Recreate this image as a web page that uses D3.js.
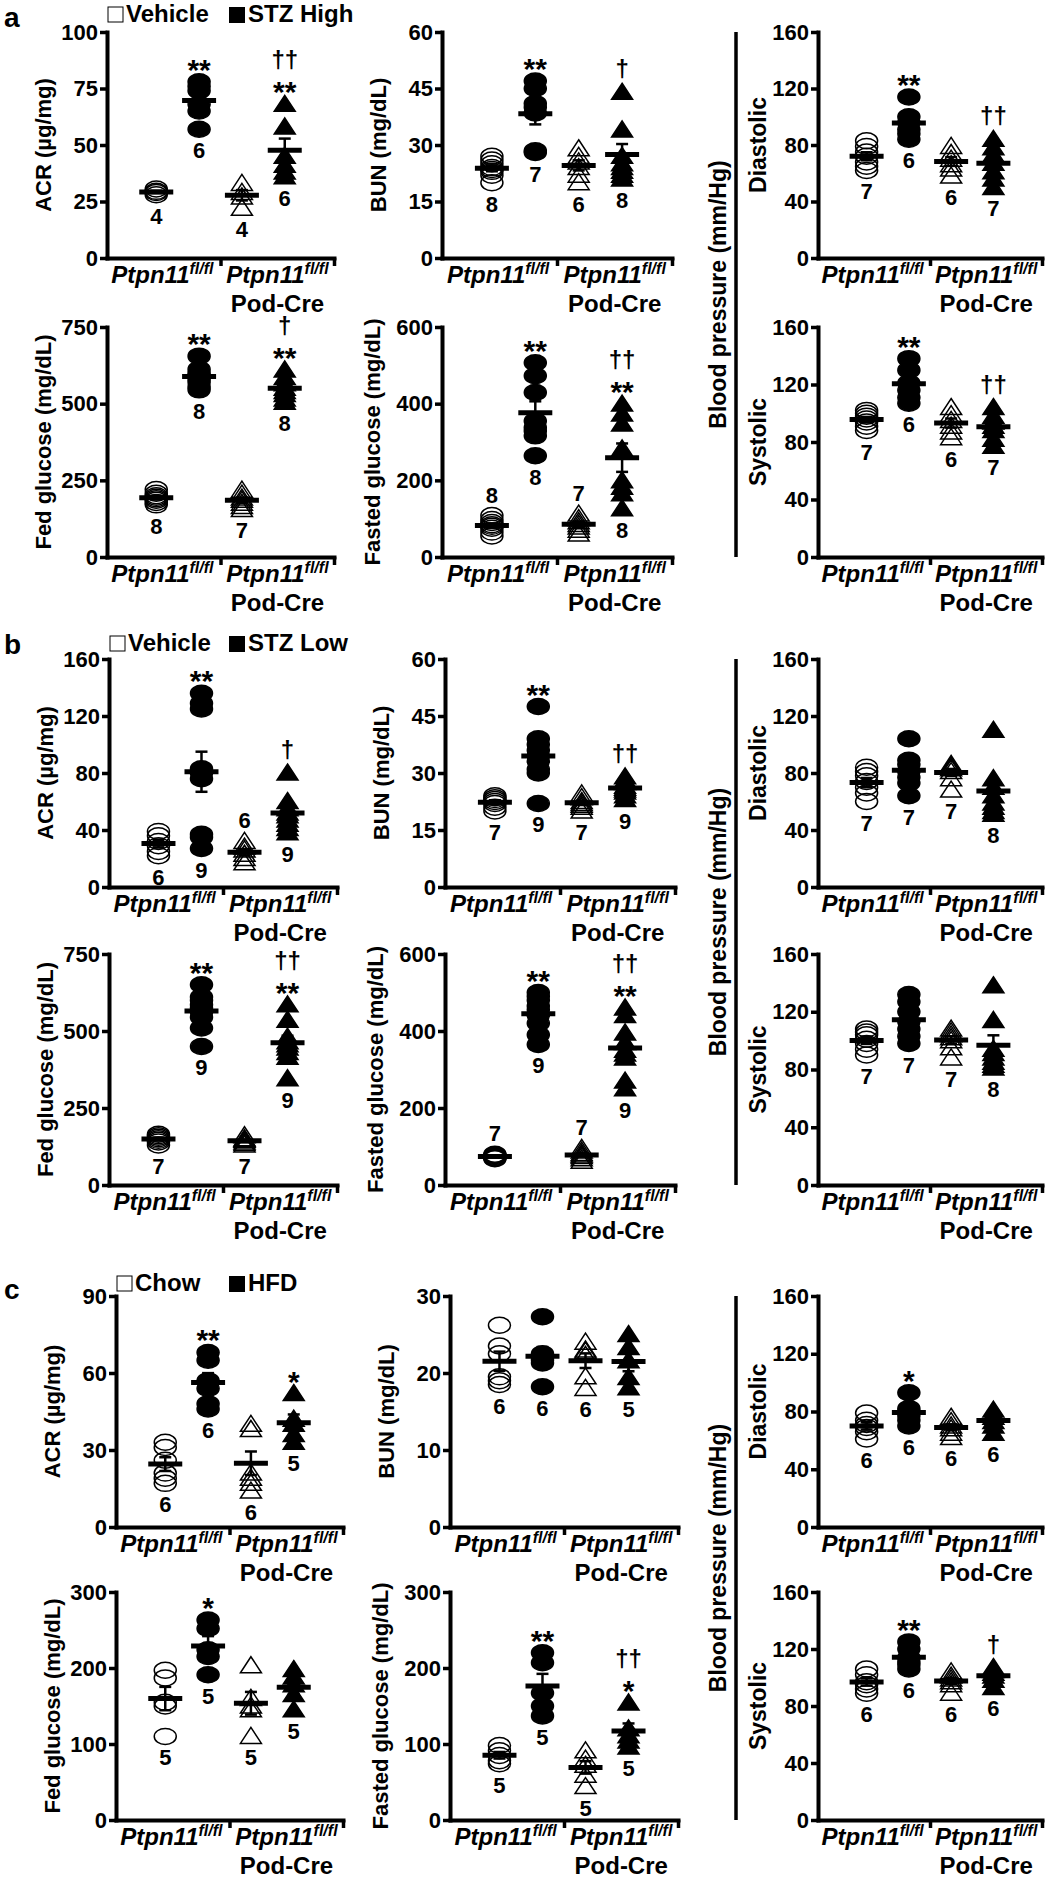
<!DOCTYPE html>
<html><head><meta charset="utf-8">
<script src="https://cdn.jsdelivr.net/npm/d3@7"></script>
<style>body{margin:0;background:#fff}</style>
</head><body>
<svg id="fig" width="1050" height="1881" xmlns="http://www.w3.org/2000/svg"></svg>
<script>
// ---------------- DATA ----------------
const groupNames = ["Ptpn11 fl/fl control", "Ptpn11 fl/fl treated", "Pod-Cre control", "Pod-Cre treated"];
const catMain = "Ptpn11";
const catSup = "fl/fl";
const catLine2 = "Pod-Cre";
const legendA = ["Vehicle", "STZ High"];
const legendB = ["Vehicle", "STZ Low"];
const legendC = ["Chow", "HFD"];
const sectionLabels = ["a", "b", "c"];
const titles = ["ACR (µg/mg)", "BUN (mg/dL)", "Diastolic", "Fed glucose (mg/dL)", "Fasted glucose (mg/dL)", "Systolic"];
const bpTitle = "Blood pressure (mm/Hg)";

const ticksACR_a = [0, 25, 50, 75, 100];
const ticksBUN = [0, 15, 30, 45, 60];
const ticksBP = [0, 40, 80, 120, 160];
const ticksFed = [0, 250, 500, 750];
const ticksFast = [0, 200, 400, 600];
const ticksACR_b = [0, 40, 80, 120, 160];
const ticksACR_c = [0, 30, 60, 90];
const ticksBUN_c = [0, 10, 20, 30];
const ticksGlu_c = [0, 100, 200, 300];

// section a (STZ High)
const a_acr = [[30.5, 29.5, 29, 28], [78, 76, 74, 68, 65, 57], [33, 29, 27, 22], [68, 58, 45, 41, 38, 36]];
const a_acr_star = ["", "**", "", "**"], a_acr_dag = ["", "", "", "††"];
const a_bun = [[27, 26, 25, 24, 23.5, 23, 22, 20], [47, 45, 41, 40, 38.5, 28.5, 28], [29, 27, 25.5, 24, 22, 20], [44, 34, 27, 25, 24, 23, 22, 21]];
const a_bun_star = ["", "**", "", ""], a_bun_dag = ["", "", "", "†"];
const a_dia = [[83, 79, 75, 72, 68, 65, 62], [114, 100, 96, 91, 88, 84], [79, 74, 70, 66, 63, 58], [84, 78, 73, 67, 61, 56, 50]];
const a_dia_star = ["", "**", "", ""], a_dia_dag = ["", "", "", "††"];
const a_fed = [[220, 208, 200, 195, 190, 185, 178, 170], [655, 612, 600, 592, 580, 570, 555, 545], [218, 205, 192, 185, 175, 165, 155], [610, 585, 565, 550, 540, 530, 515, 505]];
const a_fed_star = ["", "**", "", "**"], a_fed_dag = ["", "", "", "†"];
const a_fast = [[108, 98, 90, 84, 80, 75, 65, 55], [507, 473, 429, 355, 338, 329, 316, 264], [112, 100, 92, 85, 78, 70, 60], [399, 373, 347, 282, 199, 182, 165, 126]];
const a_fast_star = ["", "**", "", "**"], a_fast_dag = ["", "", "", "††"];
const a_fast_nAbove = [true, false, true, false];
const a_sys = [[102, 100, 98, 96, 94, 91, 88], [138, 130, 121, 116, 111, 107], [104, 99, 95, 91, 87, 83], [104, 98, 94, 91, 88, 82, 77]];
const a_sys_star = ["", "**", "", ""], a_sys_dag = ["", "", "", "††"];

// section b (STZ Low)
const b_acr = [[39, 36, 32, 29, 25, 22], [136, 129, 125, 83, 80, 76, 37, 35, 27], [32, 28, 26, 23, 20, 17], [80, 60, 55, 52, 50, 47, 44, 41, 38]];
const b_acr_star = ["", "**", "", ""], b_acr_dag = ["", "", "", "†"];
const b_acr_nAbove = [false, false, true, false];
const b_bun = [[24, 23.5, 23, 22.5, 22, 21, 20], [47.5, 39, 37.5, 36, 34.5, 33, 31, 30, 22], [24.5, 23.5, 22.5, 22, 21.5, 21, 20], [29, 28, 27.5, 26.5, 26, 25.5, 25, 24, 23]];
const b_bun_star = ["", "**", "", ""], b_bun_dag = ["", "", "", "††"];
const b_dia = [[84, 81, 78, 74, 70, 66, 60], [104, 89, 86, 81, 77, 73, 64], [86, 85, 84, 83, 81, 76, 68], [110, 76, 70, 64, 59, 56, 53, 51]];
const b_fed = [[165, 160, 155, 150, 145, 140, 130], [650, 610, 600, 585, 575, 560, 545, 510, 450], [160, 150, 148, 145, 140, 135, 130], [585, 535, 480, 465, 455, 445, 430, 415, 345]];
const b_fed_star = ["", "**", "", "**"], b_fed_dag = ["", "", "", "††"];
const b_fast = [[80, 78, 76, 74, 72, 70, 68], [500, 490, 480, 465, 455, 440, 420, 390, 365], [95, 88, 82, 78, 74, 68, 62], [460, 440, 395, 370, 350, 340, 330, 270, 250]];
const b_fast_star = ["", "**", "", "**"], b_fast_dag = ["", "", "", "††"];
const b_fast_nAbove = [true, false, true, false];
const b_sys = [[108, 106, 104, 101, 98, 94, 90], [132, 127, 120, 113, 108, 103, 98], [108, 106, 104, 102, 100, 95, 88], [138, 114, 94, 91, 88, 85, 83, 81]];

// section c (Chow / HFD)
const c_acr = [[33, 31, 26, 21, 19, 17], [68, 65, 57, 54, 48, 46], [40, 38, 21, 19, 17, 14], [52, 42, 40, 36, 33]];
const c_acr_star = ["", "**", "", "*"];
const c_bun = [[26.2, 23.5, 22.5, 19.5, 19, 18.5], [27.3, 22.5, 22, 21.7, 21.3, 18.2], [24, 23, 22.8, 22.3, 19.5, 18], [25, 23.3, 21.6, 19.4, 18.1]];
const c_dia = [[79, 74, 71, 69, 66, 61], [93, 82, 80, 77, 74, 70], [76, 73, 70, 68, 65, 62], [81, 78, 76, 73, 70, 65]];
const c_dia_star = ["", "*", "", ""];
const c_fed = [[197, 187, 155, 150, 110], [263, 252, 224, 215, 191], [203, 160, 150, 145, 110], [198, 188, 178, 165, 145]];
const c_fed_star = ["", "*", "", ""];
const c_fast = [[98, 91, 85, 78, 74], [220, 207, 167, 150, 137], [91, 80, 72, 59, 44], [154, 120, 111, 104, 96]];
const c_fast_star = ["", "**", "", "*"], c_fast_dag = ["", "", "", "††"];
const c_sys = [[106, 102, 97, 95, 92, 89], [125, 120, 114, 111, 109, 106], [104, 101, 99, 97, 95, 89], [107, 105, 103, 101, 98, 93]];
const c_sys_star = ["", "**", "", ""], c_sys_dag = ["", "", "", "†"];

const none4 = ["", "", "", ""];
const below4 = [false, false, false, false];

// ---------------- LAYOUT ----------------
const FONT = "'Liberation Sans', Arial, Helvetica, sans-serif";
const svg = d3.select("#fig").attr("font-family", FONT);

const sections = [
  {label: sectionLabels[0], legend: legendA, legY: 14, labY: 27, rows: [[32, 258], [327, 557]], c1: [107, 334], c2: [442, 672],
   panels: [
     [a_acr, ticksACR_a, a_acr_star, a_acr_dag, below4],
     [a_bun, ticksBUN, a_bun_star, a_bun_dag, below4],
     [a_dia, ticksBP, a_dia_star, a_dia_dag, below4],
     [a_fed, ticksFed, a_fed_star, a_fed_dag, below4],
     [a_fast, ticksFast, a_fast_star, a_fast_dag, a_fast_nAbove],
     [a_sys, ticksBP, a_sys_star, a_sys_dag, below4]]},
  {label: sectionLabels[1], legend: legendB, legY: 643, labY: 654, rows: [[659, 887], [954, 1185]], c1: [109, 337], c2: [445, 675],
   panels: [
     [b_acr, ticksACR_b, b_acr_star, b_acr_dag, b_acr_nAbove],
     [b_bun, ticksBUN, b_bun_star, b_bun_dag, below4],
     [b_dia, ticksBP, none4, none4, below4],
     [b_fed, ticksFed, b_fed_star, b_fed_dag, below4],
     [b_fast, ticksFast, b_fast_star, b_fast_dag, b_fast_nAbove],
     [b_sys, ticksBP, none4, none4, below4]]},
  {label: sectionLabels[2], legend: legendC, legY: 1283, labY: 1299, rows: [[1296, 1527], [1592, 1820]], c1: [116, 343], c2: [450, 678],
   panels: [
     [c_acr, ticksACR_c, c_acr_star, none4, below4],
     [c_bun, ticksBUN_c, none4, none4, below4],
     [c_dia, ticksBP, c_dia_star, none4, below4],
     [c_fed, ticksGlu_c, c_fed_star, none4, below4],
     [c_fast, ticksGlu_c, c_fast_star, c_fast_dag, below4],
     [c_sys, ticksBP, c_sys_star, c_sys_dag, below4]]}
];
const col3 = [818, 1042];
const bpLineX = 736;

function styleAxis(sel) {
  sel.attr("font-family", FONT).attr("font-size", 22).attr("font-weight", "bold");
  sel.select(".domain").attr("stroke-width", 4).attr("stroke-linecap", "square").attr("stroke", "#000");
  sel.selectAll(".tick line").attr("stroke-width", 3.5).attr("stroke", "#000");
  sel.selectAll(".tick text").attr("fill", "#000");
}

function drawPanel(p) {
  const g = svg.append("g");
  const y = d3.scaleLinear().domain([0, d3.max(p.ticks)]).range([p.bottom, p.top]);
  const xa = d3.scaleLinear().domain([0, 1]).range([p.x0, p.x1]);
  const x = d3.scalePoint().domain([0, 1, 2, 3]).range([p.x0, p.x1]).padding(1.15);

  g.append("g").attr("transform", `translate(${p.x0},0)`)
    .call(d3.axisLeft(y).tickValues(p.ticks).tickSize(7).tickSizeOuter(0).tickPadding(2).tickFormat(d3.format("d")))
    .call(styleAxis);
  const xg = g.append("g").attr("transform", `translate(0,${p.bottom})`)
    .call(d3.axisBottom(xa).tickValues([0.5, 1]).tickSize(8).tickSizeOuter(0).tickFormat(""))
    .call(styleAxis);
  xg.selectAll(".tick text").remove();

  // axis title
  g.append("text")
    .attr("transform", `translate(${p.x0 - p.titleOff},${(p.top + p.bottom) / 2}) rotate(-90)`)
    .attr("text-anchor", "middle").attr("dy", "0.35em")
    .attr("font-size", p.bp ? 23 : 22).attr("font-weight", "bold")
    .text(p.title);

  // category labels
  const lab = g.append("g").attr("font-weight", "bold").attr("font-size", 24).attr("text-anchor", "middle");
  [0.244, 0.751].forEach((f, i) => {
    const t = lab.append("text").attr("x", xa(f)).attr("y", p.bottom + 25);
    t.append("tspan").attr("font-style", "italic").text(catMain);
    t.append("tspan").attr("font-style", "italic").attr("font-size", 16).attr("dy", -9).text(catSup);
    if (i === 1) lab.append("text").attr("x", xa(f)).attr("y", p.bottom + 54).text(catLine2);
  });

  // points & stats
  p.values.forEach((vals, i) => {
    const cx = x(i);
    const open = i % 2 === 0, tri = i >= 2;
    const fill = open ? "none" : "#000";
    vals.forEach(v => {
      const cy = y(v);
      if (!tri) {
        g.append("ellipse").attr("cx", cx).attr("cy", cy).attr("rx", 11).attr("ry", 8)
          .attr("fill", fill).attr("stroke", "#000").attr("stroke-width", 1.5);
      } else {
        g.append("path").attr("d", `M${cx},${cy - 9}L${cx + 10.5},${cy + 7}L${cx - 10.5},${cy + 7}Z`)
          .attr("fill", fill).attr("stroke", "#000").attr("stroke-width", 1.5).attr("stroke-linejoin", "miter");
      }
    });
    const m = d3.mean(vals);
    const sem = d3.deviation(vals) / Math.sqrt(vals.length);
    const eb = g.append("g").attr("stroke", "#000");
    eb.append("line").attr("x1", cx).attr("x2", cx).attr("y1", y(m - sem)).attr("y2", y(m + sem)).attr("stroke-width", 2.5);
    [m - sem, m + sem].forEach(v => eb.append("line").attr("x1", cx - 6).attr("x2", cx + 6).attr("y1", y(v)).attr("y2", y(v)).attr("stroke-width", 2.5));
    eb.append("line").attr("x1", cx - 17).attr("x2", cx + 17).attr("y1", y(m)).attr("y2", y(m)).attr("stroke-width", 5);

    const topY = Math.min(y(d3.max(vals)), y(m + sem) + 6);
    const botY = Math.max(y(d3.min(vals)), y(m - sem) - 6);
    // n label
    const nY = p.nAbove[i] ? topY - 13 : botY + 29;
    g.append("text").attr("x", cx).attr("y", nY).attr("text-anchor", "middle")
      .attr("font-weight", "bold").attr("font-size", 22).text(vals.length);
    // significance marks
    if (p.stars[i]) {
      const sc = topY - 19;
      g.append("text").attr("x", cx).attr("y", sc + 17).attr("text-anchor", "middle")
        .attr("font-weight", "bold").attr("font-size", 30).text(p.stars[i]);
      if (p.dags[i]) {
        const dc = sc - 24;
        g.append("text").attr("x", cx).attr("y", dc + 7).attr("text-anchor", "middle")
          .attr("font-weight", "bold").attr("font-size", 24).text(p.dags[i]);
      }
    } else if (p.dags[i]) {
      const dc = topY - 22;
      g.append("text").attr("x", cx).attr("y", dc + 7).attr("text-anchor", "middle")
        .attr("font-weight", "bold").attr("font-size", 24).text(p.dags[i]);
    }
  });
}

sections.forEach(s => {
  // section label
  svg.append("text").attr("x", 4).attr("y", s.labY).attr("font-weight", "bold").attr("font-size", 28).text(s.label);
  // legend
  const lx = s.c1[0] + 1;
  const lg = svg.append("g").attr("font-weight", "bold").attr("font-size", 24);
  lg.append("rect").attr("x", lx).attr("y", s.legY - 7).attr("width", 15).attr("height", 15)
    .attr("fill", "#fff").attr("stroke", "#000").attr("stroke-width", 1);
  lg.append("text").attr("x", lx + 18).attr("y", s.legY + 8).text(s.legend[0]);
  lg.append("rect").attr("x", 229).attr("y", s.legY - 7).attr("width", 16).attr("height", 16).attr("fill", "#000");
  lg.append("text").attr("x", 248).attr("y", s.legY + 8).text(s.legend[1]);

  const cols = [s.c1, s.c2, col3];
  s.panels.forEach((pp, k) => {
    const row = k < 3 ? 0 : 1, col = k % 3;
    drawPanel({
      values: pp[0], ticks: pp[1], stars: pp[2], dags: pp[3], nAbove: pp[4],
      title: titles[k], bp: col === 2,
      titleOff: col === 2 ? 60 : (k === 4 ? 70 : 64),
      x0: cols[col][0], x1: cols[col][1], top: s.rows[row][0], bottom: s.rows[row][1]
    });
  });
  // blood pressure bracket line + label
  const t = s.rows[0][0], b = s.rows[1][1];
  svg.append("line").attr("x1", bpLineX).attr("x2", bpLineX).attr("y1", t).attr("y2", b)
    .attr("stroke", "#000").attr("stroke-width", 3.5);
  svg.append("text").attr("transform", `translate(${bpLineX - 18},${(t + b) / 2}) rotate(-90)`)
    .attr("text-anchor", "middle").attr("dy", "0.35em").attr("font-size", 23).attr("font-weight", "bold").text(bpTitle);
});
</script>
</body></html>
